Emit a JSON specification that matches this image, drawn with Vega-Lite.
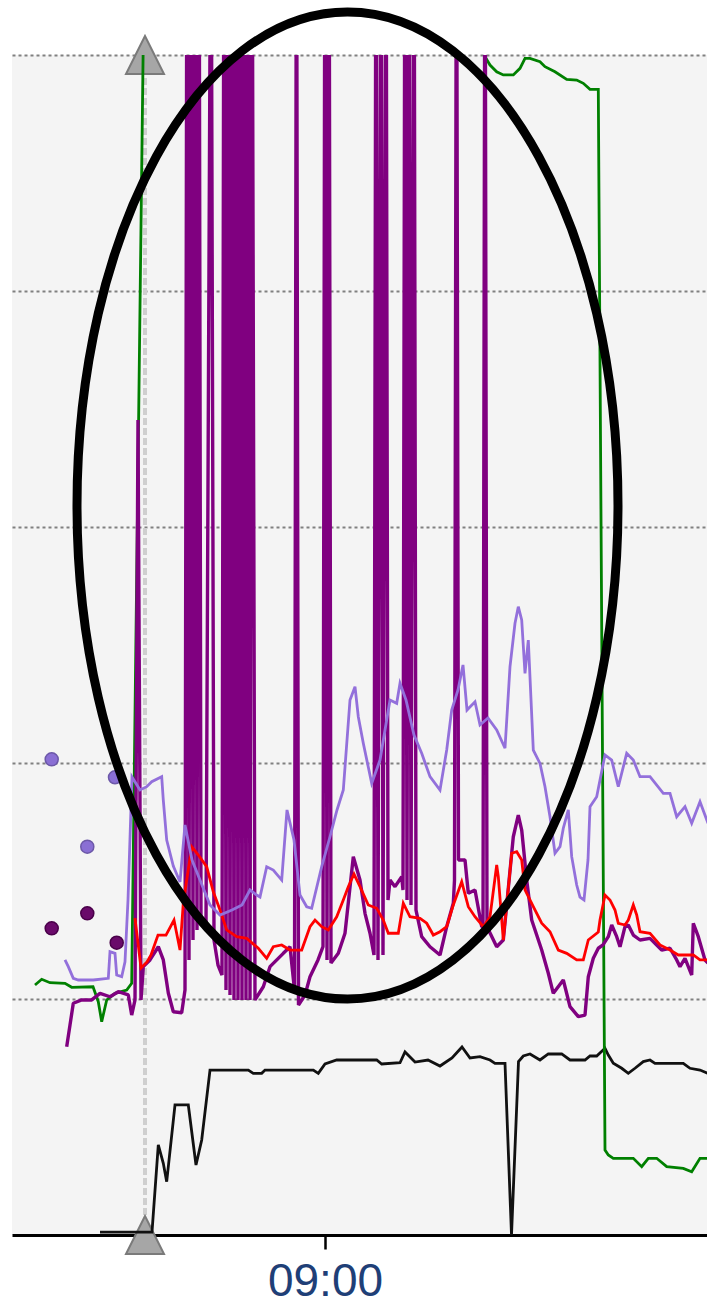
{
  "$schema": "https://vega.github.io/schema/vega-lite/v6.json",
  "width": 695,
  "height": 1180,
  "autosize": "none",
  "padding": {"left": 12, "top": 55, "right": 0, "bottom": 71},
  "config": {"view": {"fill": "#f4f4f4", "stroke": null}, "background": "#ffffff"},
  "datasets": {
    "marker": [{"m": 42.0, "v": 0, "v2": 100}],
    "triangles": [{"m": 42.0, "v": 100}, {"m": 42.0, "v": 0}],
    "green": [{"m":31.0,"v":21.19},{"m":31.67,"v":21.67},{"m":32.5,"v":21.38},{"m":34.0,"v":21.33},{"m":34.67,"v":20.99},{"m":36.8,"v":21.04},{"m":37.33,"v":19.77},{"m":37.67,"v":18.08},{"m":38.17,"v":19.92},{"m":39.0,"v":20.48},{"m":40.17,"v":20.76},{"m":40.67,"v":21.33},{"m":42.1,"v":120},{"m":75.8,"v":102},{"m":76.0,"v":99.86},{"m":76.5,"v":99.15},{"m":77.17,"v":98.58},{"m":77.83,"v":98.31},{"m":78.83,"v":98.31},{"m":79.5,"v":98.87},{"m":80.0,"v":99.72},{"m":80.5,"v":99.72},{"m":81.5,"v":99.43},{"m":82.0,"v":99.01},{"m":83.0,"v":98.58},{"m":84.17,"v":97.94},{"m":85.17,"v":97.88},{"m":85.83,"v":97.6},{"m":86.5,"v":97.09},{"m":87.33,"v":97.09},{"m":88.0,"v":7.2},{"m":88.33,"v":6.78},{"m":88.83,"v":6.5},{"m":90.83,"v":6.5},{"m":91.67,"v":5.79},{"m":92.33,"v":6.5},{"m":93.17,"v":6.5},{"m":94.17,"v":5.79},{"m":95.83,"v":5.65},{"m":96.67,"v":5.36},{"m":97.5,"v":6.5},{"m":98.3,"v":6.5}],
    "black": [{"m":37.5,"v":0.25},{"m":41.17,"v":0.25},{"m":42.7,"v":0.25},{"m":43.33,"v":7.63},{"m":43.83,"v":6.08},{"m":44.17,"v":4.52},{"m":45.0,"v":11.02},{"m":46.33,"v":11.02},{"m":47.1,"v":5.93},{"m":47.67,"v":8.05},{"m":48.5,"v":13.98},{"m":52.33,"v":13.98},{"m":52.83,"v":13.7},{"m":53.67,"v":13.7},{"m":54.0,"v":13.98},{"m":58.83,"v":13.98},{"m":59.33,"v":13.7},{"m":60.0,"v":14.49},{"m":61.17,"v":14.83},{"m":65.17,"v":14.83},{"m":65.67,"v":14.49},{"m":67.5,"v":14.6},{"m":68.0,"v":15.51},{"m":69.0,"v":14.66},{"m":70.3,"v":14.83},{"m":71.5,"v":14.32},{"m":72.7,"v":15.0},{"m":73.7,"v":15.93},{"m":74.5,"v":15.0},{"m":75.5,"v":15.11},{"m":76.5,"v":14.83},{"m":77.0,"v":14.55},{"m":78.0,"v":14.55},{"m":78.65,"v":0.0},{"m":79.35,"v":14.69},{"m":79.83,"v":15.17},{"m":80.5,"v":15.34},{"m":81.5,"v":14.83},{"m":82.33,"v":15.34},{"m":83.67,"v":15.34},{"m":84.5,"v":14.83},{"m":86.0,"v":14.83},{"m":86.5,"v":15.17},{"m":87.17,"v":15.17},{"m":88.0,"v":15.82},{"m":88.33,"v":15.25},{"m":88.83,"v":14.55},{"m":89.67,"v":14.13},{"m":90.33,"v":13.7},{"m":91.0,"v":14.13},{"m":91.83,"v":14.69},{"m":92.5,"v":14.83},{"m":93.0,"v":14.55},{"m":95.83,"v":14.55},{"m":96.5,"v":14.13},{"m":97.5,"v":13.98},{"m":98.3,"v":13.7}],
    "dpurple": [{"m":34.17,"v":15.96},{"m":34.5,"v":17.8},{"m":34.83,"v":19.64},{"m":35.67,"v":19.92},{"m":36.67,"v":19.92},{"m":37.5,"v":20.48},{"m":38.5,"v":20.19},{"m":39.33,"v":20.62},{"m":40.33,"v":20.34},{"m":40.67,"v":18.64},{"m":41.0,"v":19.92},{"m":41.3,"v":69.07},{"m":41.6,"v":19.92},{"m":41.83,"v":22.74},{"m":42.5,"v":23.31},{"m":43.33,"v":24.43},{"m":43.83,"v":23.31},{"m":44.33,"v":20.51},{"m":44.83,"v":18.92},{"m":45.67,"v":18.84},{"m":46.0,"v":20.76},{"m":46.2,"v":120},{"m":46.4,"v":23.31},{"m":46.6,"v":120},{"m":46.8,"v":25.0},{"m":47.0,"v":120},{"m":47.2,"v":25.85},{"m":47.4,"v":120},{"m":47.6,"v":26.27},{"m":48.1,"v":26.27},{"m":48.6,"v":120},{"m":48.9,"v":25.0},{"m":49.3,"v":22.88},{"m":49.7,"v":22.03},{"m":49.9,"v":120},{"m":50.1,"v":20.76},{"m":50.3,"v":120},{"m":50.5,"v":20.34},{"m":50.7,"v":120},{"m":50.9,"v":19.92},{"m":51.1,"v":120},{"m":51.3,"v":19.92},{"m":51.5,"v":120},{"m":51.7,"v":19.92},{"m":51.9,"v":120},{"m":52.1,"v":19.92},{"m":52.3,"v":120},{"m":52.5,"v":19.92},{"m":52.7,"v":120},{"m":53.0,"v":19.92},{"m":53.83,"v":21.04},{"m":54.5,"v":22.74},{"m":55.83,"v":23.87},{"m":56.5,"v":24.43},{"m":56.95,"v":20.76},{"m":57.15,"v":120},{"m":57.35,"v":19.49},{"m":58.0,"v":20.34},{"m":58.5,"v":21.89},{"m":59.3,"v":23.31},{"m":59.8,"v":24.43},{"m":60.0,"v":120},{"m":60.2,"v":23.31},{"m":60.4,"v":120},{"m":60.6,"v":23.05},{"m":61.33,"v":23.87},{"m":62.0,"v":25.57},{"m":62.83,"v":32.06},{"m":63.5,"v":30.08},{"m":64.0,"v":27.26},{"m":64.5,"v":25.57},{"m":64.9,"v":23.73},{"m":65.1,"v":120},{"m":65.3,"v":23.31},{"m":65.6,"v":120},{"m":65.8,"v":23.73},{"m":66.1,"v":120},{"m":66.3,"v":28.39},{"m":66.5,"v":30.08},{"m":67.0,"v":29.52},{"m":67.67,"v":30.36},{"m":67.8,"v":29.24},{"m":68.0,"v":120},{"m":68.2,"v":28.39},{"m":68.4,"v":120},{"m":68.6,"v":27.97},{"m":68.9,"v":120},{"m":69.1,"v":27.54},{"m":69.67,"v":25.28},{"m":70.5,"v":24.43},{"m":71.5,"v":23.73},{"m":72.17,"v":26.13},{"m":72.83,"v":28.11},{"m":72.95,"v":30.08},{"m":73.15,"v":120},{"m":73.35,"v":31.78},{"m":74.0,"v":31.78},{"m":74.33,"v":28.96},{"m":75.0,"v":29.24},{"m":75.67,"v":26.13},{"m":75.8,"v":26.13},{"m":76.0,"v":120},{"m":76.2,"v":26.13},{"m":77.17,"v":24.43},{"m":77.83,"v":25.0},{"m":78.83,"v":33.75},{"m":79.33,"v":35.59},{"m":79.67,"v":34.32},{"m":80.17,"v":30.08},{"m":80.67,"v":26.69},{"m":81.67,"v":24.15},{"m":82.33,"v":22.18},{"m":82.83,"v":20.48},{"m":83.83,"v":21.61},{"m":84.5,"v":19.35},{"m":85.33,"v":18.5},{"m":86.0,"v":18.64},{"m":86.33,"v":21.89},{"m":86.83,"v":23.45},{"m":87.33,"v":24.3},{"m":87.8,"v":24.58},{"m":88.33,"v":25.28},{"m":88.67,"v":26.27},{"m":89.17,"v":25.28},{"m":89.5,"v":24.43},{"m":90.0,"v":26.13},{"m":90.33,"v":26.27},{"m":90.83,"v":25.42},{"m":91.5,"v":25.0},{"m":92.5,"v":25.14},{"m":93.17,"v":24.58},{"m":93.67,"v":24.15},{"m":94.5,"v":24.3},{"m":95.17,"v":23.31},{"m":95.5,"v":22.74},{"m":96.0,"v":23.45},{"m":96.67,"v":22.03},{"m":96.83,"v":26.42},{"m":97.33,"v":25.28},{"m":98.0,"v":23.31},{"m":98.3,"v":23.05}],
    "red": [{"m":41.0,"v":26.86},{"m":41.6,"v":22.63},{"m":42.2,"v":23.14},{"m":42.6,"v":23.73},{"m":43.3,"v":25.42},{"m":44.1,"v":25.42},{"m":44.9,"v":26.69},{"m":45.5,"v":24.15},{"m":45.83,"v":28.14},{"m":46.67,"v":32.91},{"m":47.33,"v":32.2},{"m":48.17,"v":31.21},{"m":48.83,"v":29.09},{"m":49.5,"v":27.54},{"m":50.17,"v":25.85},{"m":51.17,"v":25.28},{"m":52.17,"v":25.14},{"m":53.33,"v":24.3},{"m":54.17,"v":23.45},{"m":54.83,"v":24.43},{"m":55.67,"v":24.58},{"m":56.5,"v":24.15},{"m":57.67,"v":24.15},{"m":58.5,"v":26.13},{"m":59.0,"v":26.69},{"m":59.67,"v":26.13},{"m":60.33,"v":25.85},{"m":61.17,"v":26.97},{"m":61.83,"v":28.39},{"m":62.33,"v":29.52},{"m":62.9,"v":30.59},{"m":63.5,"v":29.52},{"m":64.33,"v":27.97},{"m":65.17,"v":27.69},{"m":65.83,"v":26.69},{"m":66.33,"v":25.57},{"m":67.33,"v":25.57},{"m":67.83,"v":28.11},{"m":68.5,"v":26.97},{"m":69.5,"v":26.84},{"m":70.17,"v":26.42},{"m":70.83,"v":25.42},{"m":71.5,"v":25.7},{"m":72.17,"v":26.13},{"m":72.83,"v":27.97},{"m":73.67,"v":29.94},{"m":74.33,"v":27.82},{"m":75.0,"v":26.97},{"m":75.83,"v":26.13},{"m":76.5,"v":26.97},{"m":77.17,"v":31.36},{"m":77.33,"v":30.36},{"m":77.83,"v":25.0},{"m":78.67,"v":32.35},{"m":79.17,"v":32.48},{"m":79.67,"v":31.78},{"m":80.0,"v":29.24},{"m":80.83,"v":27.82},{"m":81.67,"v":26.42},{"m":82.5,"v":25.7},{"m":83.33,"v":24.15},{"m":84.17,"v":23.87},{"m":85.17,"v":23.31},{"m":85.83,"v":23.31},{"m":86.33,"v":25.0},{"m":87.33,"v":25.68},{"m":87.5,"v":26.69},{"m":88.0,"v":28.81},{"m":88.5,"v":28.39},{"m":89.0,"v":27.54},{"m":89.33,"v":26.42},{"m":90.0,"v":26.27},{"m":90.33,"v":26.69},{"m":90.83,"v":27.97},{"m":91.17,"v":27.12},{"m":91.5,"v":25.7},{"m":92.5,"v":25.57},{"m":93.5,"v":24.58},{"m":94.5,"v":24.15},{"m":95.33,"v":23.73},{"m":96.83,"v":23.73},{"m":97.5,"v":23.31},{"m":98.3,"v":23.31}],
    "lpurple": [{"m":34.0,"v":23.31},{"m":34.33,"v":22.74},{"m":34.83,"v":21.75},{"m":35.33,"v":21.61},{"m":36.83,"v":21.61},{"m":38.33,"v":21.75},{"m":38.5,"v":24.01},{"m":39.0,"v":23.87},{"m":39.17,"v":22.03},{"m":39.67,"v":21.89},{"m":40.0,"v":23.16},{"m":40.3,"v":28.39},{"m":40.7,"v":38.81},{"m":41.5,"v":37.71},{"m":42.17,"v":37.99},{"m":42.67,"v":38.42},{"m":43.67,"v":38.84},{"m":43.83,"v":36.86},{"m":44.17,"v":33.47},{"m":44.83,"v":31.27},{"m":45.5,"v":29.92},{"m":46.0,"v":34.75},{"m":46.7,"v":31.78},{"m":47.5,"v":30.08},{"m":48.5,"v":27.97},{"m":49.5,"v":27.12},{"m":50.7,"v":27.54},{"m":51.7,"v":27.97},{"m":52.5,"v":29.24},{"m":53.17,"v":28.81},{"m":53.5,"v":28.64},{"m":54.17,"v":31.21},{"m":54.83,"v":30.93},{"m":55.67,"v":30.08},{"m":56.2,"v":36.02},{"m":56.9,"v":33.47},{"m":57.5,"v":28.81},{"m":58.17,"v":27.82},{"m":58.67,"v":27.69},{"m":59.67,"v":31.21},{"m":60.5,"v":33.75},{"m":61.2,"v":36.02},{"m":61.83,"v":37.71},{"m":62.5,"v":45.34},{"m":63.0,"v":46.47},{"m":63.33,"v":43.92},{"m":63.83,"v":41.67},{"m":64.67,"v":38.28},{"m":65.5,"v":40.25},{"m":66.5,"v":45.34},{"m":67.17,"v":45.06},{"m":67.5,"v":46.75},{"m":68.1,"v":45.34},{"m":68.9,"v":42.37},{"m":69.67,"v":40.82},{"m":70.5,"v":38.84},{"m":71.5,"v":37.71},{"m":72.17,"v":41.1},{"m":72.67,"v":44.49},{"m":73.3,"v":46.19},{"m":73.8,"v":48.31},{"m":74.2,"v":44.49},{"m":75.0,"v":45.19},{"m":75.5,"v":43.22},{"m":76.3,"v":43.81},{"m":77.17,"v":42.8},{"m":78.0,"v":41.25},{"m":78.5,"v":48.16},{"m":79.0,"v":51.84},{"m":79.33,"v":53.25},{"m":79.67,"v":52.12},{"m":80.0,"v":47.6},{"m":80.33,"v":50.42},{"m":80.83,"v":41.1},{"m":81.5,"v":39.97},{"m":82.0,"v":37.99},{"m":82.5,"v":35.45},{"m":83.0,"v":32.35},{"m":83.5,"v":32.91},{"m":83.83,"v":34.47},{"m":84.33,"v":36.02},{"m":84.67,"v":32.06},{"m":85.17,"v":29.66},{"m":85.5,"v":28.64},{"m":85.9,"v":28.39},{"m":86.3,"v":31.78},{"m":86.5,"v":36.3},{"m":87.17,"v":37.14},{"m":87.5,"v":38.56},{"m":88.0,"v":40.68},{"m":88.67,"v":40.25},{"m":89.33,"v":37.99},{"m":90.17,"v":40.82},{"m":90.83,"v":40.25},{"m":91.5,"v":38.84},{"m":92.5,"v":38.84},{"m":93.83,"v":37.43},{"m":94.5,"v":37.43},{"m":95.17,"v":35.45},{"m":96.0,"v":36.3},{"m":96.67,"v":34.89},{"m":97.5,"v":36.72},{"m":98.3,"v":34.89}],
    "dots": [{"m":32.67,"v":40.31,"k":"light"},{"m":39.0,"v":38.79,"k":"light"},{"m":36.23,"v":32.91,"k":"light"},{"m":32.67,"v":25.99,"k":"dark"},{"m":36.23,"v":27.26,"k":"dark"},{"m":39.17,"v":24.77,"k":"dark"}],
    "ellipse": [{"m": 62.25, "v": 61.82}]
  },
  "encoding": {
    "x": {"field": "m", "type": "quantitative",
      "scale": {"domain": [28.7, 98.2], "nice": false, "zero": false},
      "axis": {"values": [60], "labelExpr": "'09:00'", "title": null, "grid": false,
        "domainColor": "#000000", "domainWidth": 3, "tickColor": "#000000", "tickWidth": 2.5, "tickSize": 14,
        "labelFontSize": 46, "labelFont": "Liberation Sans", "labelColor": "#1f3f77", "labelPadding": 10, "labelFlush": false}},
    "y": {"field": "v", "type": "quantitative",
      "scale": {"domain": [0, 100], "nice": false, "zero": false},
      "axis": {"values": [20, 40, 60, 80, 100], "grid": true, "gridColor": "#808080", "gridDash": [3, 3], "gridWidth": 2,
        "domain": false, "ticks": false, "labels": false, "title": null}}
  },
  "layer": [
    {"data": {"name": "marker"}, "mark": {"type": "rule", "color": "#cfcfcf", "strokeWidth": 4, "strokeDash": [7, 3]},
      "encoding": {"y2": {"field": "v2"}}},
    {"data": {"name": "triangles"}, "mark": {"type": "point", "shape": "M0,-1L-1,1L1,1Z", "size": 1444, "filled": true, "fill": "#a6a6a6", "stroke": "#7a7a7a", "strokeWidth": 2, "opacity": 1, "clip": false}},
    {"data": {"name": "black"}, "mark": {"type": "line", "color": "#111111", "strokeWidth": 2.8, "clip": true}},
    {"data": {"name": "green"}, "mark": {"type": "line", "color": "#008000", "strokeWidth": 2.8, "clip": true}},
    {"data": {"name": "dpurple"}, "mark": {"type": "line", "color": "#800080", "strokeWidth": 3.4, "clip": true, "strokeJoin": "bevel"}},
    {"data": {"name": "red"}, "mark": {"type": "line", "color": "#ff0000", "strokeWidth": 2.8, "clip": true}},
    {"data": {"name": "lpurple"}, "mark": {"type": "line", "color": "#9370db", "strokeWidth": 2.8, "clip": true}},
    {"data": {"name": "dots"}, "mark": {"type": "point", "shape": "circle", "size": 170, "filled": true, "opacity": 1, "strokeWidth": 1.5},
      "encoding": {
        "fill": {"field": "k", "type": "nominal", "scale": {"domain": ["light", "dark"], "range": ["#8a6fd4", "#6a0a6a"]}, "legend": null},
        "stroke": {"field": "k", "type": "nominal", "scale": {"domain": ["light", "dark"], "range": ["#6c58a8", "#4a004a"]}, "legend": null}}},
    {"data": {"name": "ellipse"}, "mark": {"type": "point", "shape": "M-1,0C-1,-1.0076,-0.5523,-1.8244,0,-1.8244C0.5523,-1.8244,1,-1.0076,1,0C1,1.0076,0.5523,1.8244,0,1.8244C-0.5523,1.8244,-1,1.0076,-1,0Z", "size": 292681, "filled": false, "stroke": "#000000", "strokeWidth": 9, "opacity": 1, "clip": false}}
  ]
}
